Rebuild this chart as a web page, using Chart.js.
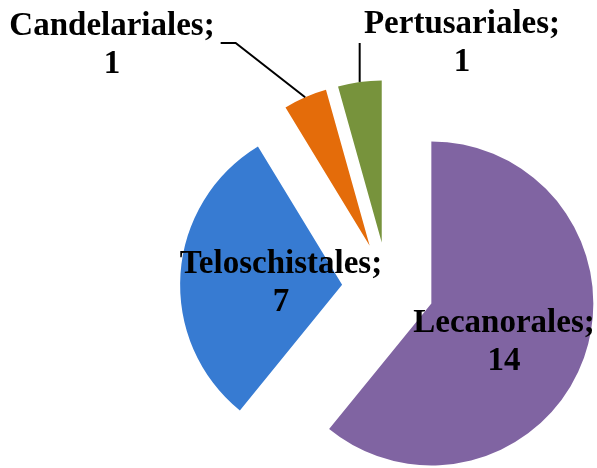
<!DOCTYPE html>
<html>
<head>
<meta charset="utf-8">
<script src="https://cdn.jsdelivr.net/npm/chart.js@4.4.0/dist/chart.umd.min.js"></script>
<style>
  html, body { margin: 0; padding: 0; background: #fff; }
  canvas { display: block; }
</style>
</head>
<body>
<canvas id="pieChart" width="597" height="468"></canvas>
<script>
// ===== data =====
const orders = ['Lecanorales', 'Teloschistales', 'Candelariales', 'Pertusariales'];
const counts = [14, 7, 1, 1];
const sliceColors = ['#8064A2', '#377BD2', '#E46C0A', '#77933C'];

// label blocks: centre x and first-line baseline
const labelX = [504, 281, 112, 462];
const labelY = [332, 273, 35, 33];
const hasLeader = [false, false, true, true];

const EXPLODE = 46;   // every slice pulled out by the same distance
const RADIUS = 162;
const LABEL_FONT = 'bold 33px "Liberation Serif", "Times New Roman", serif';

// push each slice out along its own bisector (like Excel "explode")
const explodePlugin = {
    id: 'explode',
    beforeDatasetDraw(chart, args) {
        args.meta.data.forEach(arc => {
            if (arc._exploded) return;
            const baseDraw = arc.draw;
            arc.draw = function (ctx, area) {
                const mid = (this.startAngle + this.endAngle) / 2;
                ctx.save();
                ctx.translate(Math.cos(mid) * EXPLODE, Math.sin(mid) * EXPLODE);
                baseDraw.call(this, ctx, area);
                ctx.restore();
            };
            arc._exploded = true;
        });
    }
};

// data labels "Name;\nvalue" + leader lines for the small slices
const labelPlugin = {
    id: 'sliceLabels',
    afterDatasetsDraw(chart) {
        const ctx = chart.ctx;
        const arcs = chart.getDatasetMeta(0).data;
        ctx.save();
        ctx.font = LABEL_FONT;
        ctx.fillStyle = '#000';
        ctx.textAlign = 'center';
        ctx.textBaseline = 'alphabetic';
        arcs.forEach((arc, i) => {
            const line1 = orders[i] + ';';
            const line2 = String(counts[i]);
            ctx.fillText(line1, labelX[i], labelY[i]);
            ctx.fillText(line2, labelX[i], labelY[i] + 38);

            if (!hasLeader[i]) return;
            const mid = (arc.startAngle + arc.endAngle) / 2;
            const px = arc.x + Math.cos(mid) * (EXPLODE + arc.outerRadius);
            const py = arc.y + Math.sin(mid) * (EXPLODE + arc.outerRadius);
            const halfW = ctx.measureText(line1).width / 2;
            const cy = labelY[i] + 8;
            ctx.beginPath();
            ctx.lineWidth = 2;
            ctx.strokeStyle = '#000';
            ctx.moveTo(px, py);
            if (labelX[i] < px) {
                // label sits left of the slice: diagonal then short horizontal stub
                const right = labelX[i] + halfW;
                ctx.lineTo(right + 21, cy);
                ctx.lineTo(right + 6, cy);
            } else {
                // label sits up-right: straight up from the slice
                ctx.lineTo(px, cy + 2);
            }
            ctx.stroke();
        });
        ctx.restore();
    }
};

const pieCtx = document.getElementById('pieChart').getContext('2d');
const pieChart = new Chart(pieCtx, {
    type: 'pie',
    data: {
        labels: orders,
        datasets: [{
            data: counts,
            backgroundColor: sliceColors,
            borderWidth: 0,
            radius: RADIUS
        }]
    },
    options: {
        responsive: false,
        animation: false,
        events: [],
        layout: {
            padding: { left: 179, right: 0, top: 108, bottom: 0 }
        },
        plugins: {
            legend: { display: false },
            tooltip: { enabled: false }
        }
    },
    plugins: [explodePlugin, labelPlugin]
});
</script>
</body>
</html>
